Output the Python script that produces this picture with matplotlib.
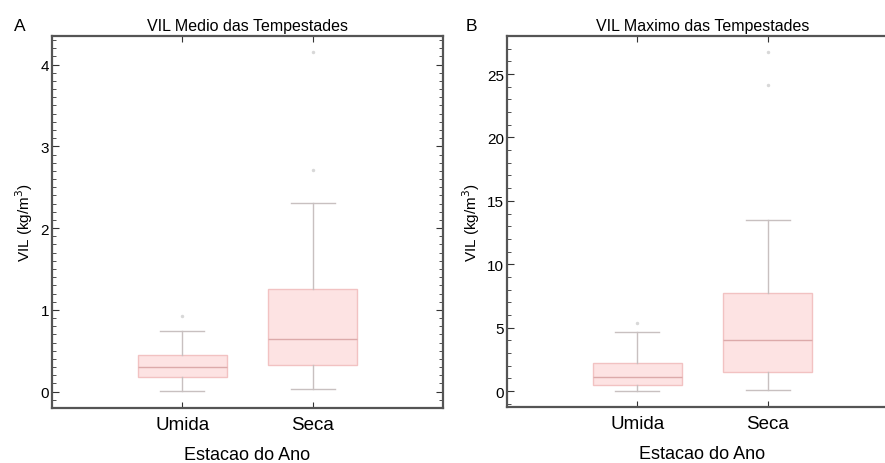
import matplotlib
matplotlib.use('Agg')
import matplotlib.pyplot as plt
from matplotlib.ticker import MultipleLocator

plt.rcParams['font.family'] = ['Liberation Sans', 'DejaVu Sans']

estacoes = ['Umida', 'Seca']

# VIL medio (kg/m2): whislo, q1, med, q3, whishi, outliers
medio_whislo = [0.01, 0.03]
medio_q1 = [0.18, 0.33]
medio_med = [0.30, 0.65]
medio_q3 = [0.45, 1.26]
medio_whishi = [0.74, 2.31]
medio_fliers = [[0.92], [2.71, 4.15]]

# VIL maximo (kg/m2)
maximo_whislo = [0.0, 0.08]
maximo_q1 = [0.47, 1.5]
maximo_med = [1.1, 4.0]
maximo_q3 = [2.2, 7.7]
maximo_whishi = [4.65, 13.5]
maximo_fliers = [[5.4], [24.1, 26.7]]


def monta_stats(lo, q1, med, q3, hi, fl):
    stats = []
    for i in range(len(estacoes)):
        stats.append({'whislo': lo[i], 'q1': q1[i], 'med': med[i], 'q3': q3[i],
                      'whishi': hi[i], 'fliers': fl[i], 'label': estacoes[i]})
    return stats


def desenha(ax, stats, titulo, ylim, major, minor):
    ax.bxp(stats, positions=[1, 2], widths=0.68, patch_artist=True,
           boxprops=dict(facecolor='#fde3e3', edgecolor='#f2c2c2', linewidth=1),
           medianprops=dict(color='#dcaaaa', linewidth=1),
           whiskerprops=dict(color='#c8c0c0', linewidth=1),
           capprops=dict(color='#c8c0c0', linewidth=1),
           flierprops=dict(marker='o', markersize=2.5, markerfacecolor='#d8d8d8',
                           markeredgecolor='none'))
    ax.set_xlim(0, 3)
    ax.set_ylim(*ylim)
    ax.yaxis.set_major_locator(MultipleLocator(major))
    ax.yaxis.set_minor_locator(MultipleLocator(minor))
    ax.tick_params(axis='both', which='both', direction='in', top=True, right=True,
                   color='#333333')
    ax.tick_params(axis='y', which='major', length=5, labelsize=11, pad=2)
    ax.tick_params(axis='y', which='minor', length=3)
    ax.tick_params(axis='x', which='major', length=4, labelsize=13.5, pad=6)
    for s in ax.spines.values():
        s.set_color('#555555')
        s.set_linewidth(1.6)
    ax.set_title(titulo, fontsize=11.5, pad=4)
    ax.set_xlabel('Estacao do Ano', fontsize=13, labelpad=9)
    ax.set_ylabel('VIL (kg/m$^{3}$)', fontsize=11, labelpad=4)


fig = plt.figure(figsize=(8.85, 4.64), dpi=100)
ax1 = fig.add_axes([52 / 885, 1 - 409 / 464, 391 / 885, 372 / 464])
ax2 = fig.add_axes([507 / 885, 1 - 408 / 464, 391 / 885, 371 / 464])

desenha(ax1, monta_stats(medio_whislo, medio_q1, medio_med, medio_q3, medio_whishi, medio_fliers),
        'VIL Medio das Tempestades', (-0.2, 4.35), 1, 0.1)
desenha(ax2, monta_stats(maximo_whislo, maximo_q1, maximo_med, maximo_q3, maximo_whishi, maximo_fliers),
        'VIL Maximo das Tempestades', (-1.26, 28.0), 5, 1)

fig.text(14 / 885, 1 - 31 / 464, 'A', fontsize=12.5)
fig.text(466 / 885, 1 - 31 / 464, 'B', fontsize=12.5)

fig.savefig('out.png', dpi=100)
